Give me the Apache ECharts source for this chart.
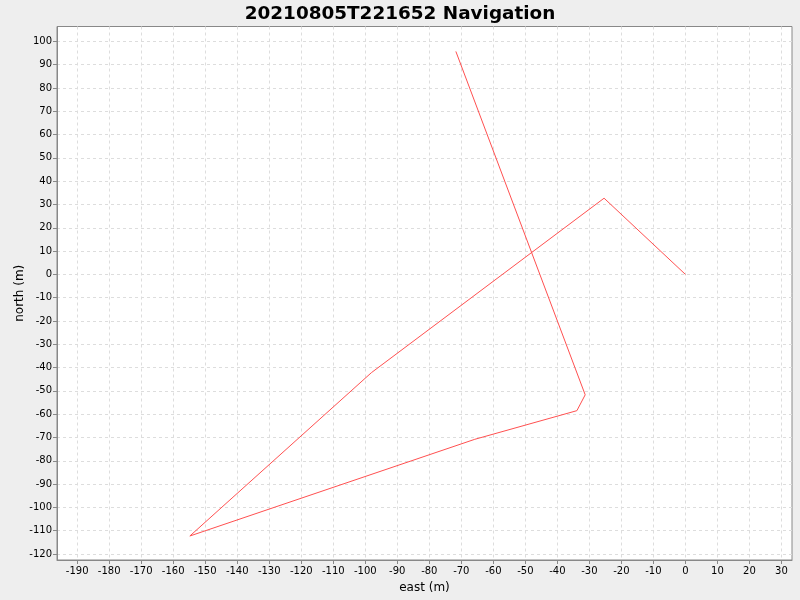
<!DOCTYPE html>
<html>
<head>
<meta charset="utf-8">
<script src="https://cdn.jsdelivr.net/npm/echarts@6/dist/echarts.min.js"></script>
<style>html,body{margin:0;padding:0;background:#eeeeee;}#c{width:800px;height:600px;}</style>
</head>
<body>
<div id="c"></div>
<script>
const titleText = '20210805T221652 Navigation';
const eastValues = [0, -25.4, -98.1, -154.8, -65.8, -33.9, -31.3, -71.7];
const northValues = [0, 32.7, -42.2, -112.3, -70.8, -58.5, -51.7, 95.7];
const xTicks = [-190,-180,-170,-160,-150,-140,-130,-120,-110,-100,-90,-80,-70,-60,-50,-40,-30,-20,-10,0,10,20,30];
const yTicks = [-120,-110,-100,-90,-80,-70,-60,-50,-40,-30,-20,-10,0,10,20,30,40,50,60,70,80,90,100];

const pts = eastValues.map((e, i) => [e, northValues[i]]);
const font = 'DejaVu Sans, sans-serif';
const chart = echarts.init(document.getElementById('c'));
chart.setOption({
  backgroundColor: '#eeeeee',
  animation: false,
  title: {
    text: titleText, left: 'center', top: 0,
    textStyle: { fontFamily: font, fontSize: 18.4, fontWeight: 'bold', color: '#000' }
  },
  grid: { left: 57, right: 8, top: 26.5, bottom: 40, containLabel: false, outerBoundsMode: 'none',
    show: true, backgroundColor: '#ffffff', borderColor: '#888888', borderWidth: 1 },
  xAxis: {
    type: 'value', min: -196.3, max: 33.3,
    name: 'east (m)', nameLocation: 'middle', nameGap: 22, nameMoveOverlap: false,
    nameTextStyle: { fontFamily: font, fontSize: 12, color: '#000' },
    axisLine: { show: true, onZero: false, lineStyle: { color: '#888888' } },
    axisTick: { show: true, length: 4, lineStyle: { color: '#888888' }, customValues: xTicks },
    axisLabel: { fontFamily: font, fontSize: 10, color: '#000', margin: 6, customValues: xTicks, formatter: v => String(v) },
    splitLine: { show: true, lineStyle: { color: '#dddddd', type: [3, 3], width: 1 } }
  },
  yAxis: {
    type: 'value', min: -122.6, max: 106.4,
    name: 'north (m)', nameLocation: 'middle', nameGap: 31, nameRotate: 90, nameMoveOverlap: false,
    nameTextStyle: { fontFamily: font, fontSize: 12, color: '#000' },
    axisLine: { show: true, onZero: false, lineStyle: { color: '#888888' } },
    axisTick: { show: true, length: 4, lineStyle: { color: '#888888' }, customValues: yTicks },
    axisLabel: { fontFamily: font, fontSize: 10, color: '#000', margin: 5, customValues: yTicks, formatter: v => String(v) },
    splitLine: { show: true, lineStyle: { color: '#dddddd', type: [3, 3], width: 1 } }
  },
  series: [{
    type: 'line', data: pts, showSymbol: false, symbol: 'none',
    lineStyle: { color: '#ff5050', width: 1 }
  }]
});
</script>
</body>
</html>
